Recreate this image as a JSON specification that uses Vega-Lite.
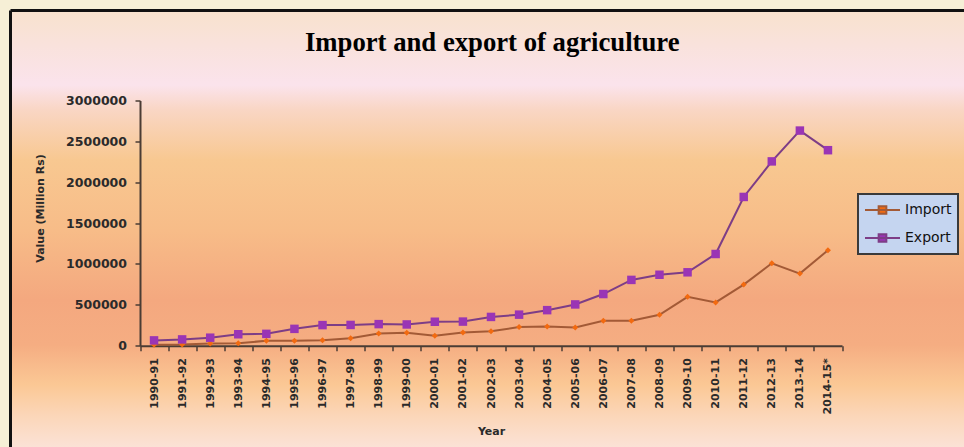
{
  "$schema": "https://vega.github.io/schema/vega-lite/v6.json",
  "width": 953.5,
  "height": 436.5,
  "autosize": "none",
  "padding": {"left": 10.5, "top": 10.5, "right": 0, "bottom": 0},
  "background": "#f6efd6",
  "title": {
    "text": "Import and export of agriculture",
    "font": "Liberation Serif",
    "fontSize": 26.7,
    "fontWeight": "bold",
    "color": "#000000",
    "anchor": "middle",
    "frame": "group",
    "offset": -46,
    "dx": 5
  },
  "config": {
    "legend": {"strokeWidth": 2},
    "view": {
      "fill": {
        "gradient": "linear",
        "x1": 0, "y1": 0, "x2": 0, "y2": 1,
        "stops": [
          {"offset": 0, "color": "#f8e2cd"},
          {"offset": 0.079, "color": "#f9e2dc"},
          {"offset": 0.171, "color": "#fbe3ec"},
          {"offset": 0.228, "color": "#f9d6c4"},
          {"offset": 0.342, "color": "#f8c891"},
          {"offset": 0.503, "color": "#f7bc88"},
          {"offset": 0.663, "color": "#f4a87f"},
          {"offset": 0.766, "color": "#f5ad82"},
          {"offset": 0.858, "color": "#fbc895"},
          {"offset": 0.927, "color": "#fbd6b8"},
          {"offset": 1, "color": "#fbe2d6"}
        ]
      },
      "stroke": "#111111",
      "strokeWidth": 3,
      "strokeDash": [953.5, 1390, 436.5, 0]
    }
  },
  "data": {
    "values": [
      {"Year": "1990-91", "Series": "Import", "Value": 12000},
      {"Year": "1991-92", "Series": "Import", "Value": 15000},
      {"Year": "1992-93", "Series": "Import", "Value": 28000},
      {"Year": "1993-94", "Series": "Import", "Value": 30000},
      {"Year": "1994-95", "Series": "Import", "Value": 60000},
      {"Year": "1995-96", "Series": "Import", "Value": 60000},
      {"Year": "1996-97", "Series": "Import", "Value": 68000},
      {"Year": "1997-98", "Series": "Import", "Value": 90000},
      {"Year": "1998-99", "Series": "Import", "Value": 148000},
      {"Year": "1999-00", "Series": "Import", "Value": 158000},
      {"Year": "2000-01", "Series": "Import", "Value": 122000},
      {"Year": "2001-02", "Series": "Import", "Value": 162000},
      {"Year": "2002-03", "Series": "Import", "Value": 178000},
      {"Year": "2003-04", "Series": "Import", "Value": 228000},
      {"Year": "2004-05", "Series": "Import", "Value": 236000},
      {"Year": "2005-06", "Series": "Import", "Value": 222000},
      {"Year": "2006-07", "Series": "Import", "Value": 305000},
      {"Year": "2007-08", "Series": "Import", "Value": 306000},
      {"Year": "2008-09", "Series": "Import", "Value": 378000},
      {"Year": "2009-10", "Series": "Import", "Value": 598000},
      {"Year": "2010-11", "Series": "Import", "Value": 530000},
      {"Year": "2011-12", "Series": "Import", "Value": 748000},
      {"Year": "2012-13", "Series": "Import", "Value": 1008000},
      {"Year": "2013-14", "Series": "Import", "Value": 882000},
      {"Year": "2014-15*", "Series": "Import", "Value": 1168000},
      {"Year": "1990-91", "Series": "Export", "Value": 65000},
      {"Year": "1991-92", "Series": "Export", "Value": 77000},
      {"Year": "1992-93", "Series": "Export", "Value": 98000},
      {"Year": "1993-94", "Series": "Export", "Value": 140000},
      {"Year": "1994-95", "Series": "Export", "Value": 145000},
      {"Year": "1995-96", "Series": "Export", "Value": 206000},
      {"Year": "1996-97", "Series": "Export", "Value": 252000},
      {"Year": "1997-98", "Series": "Export", "Value": 254000},
      {"Year": "1998-99", "Series": "Export", "Value": 264000},
      {"Year": "1999-00", "Series": "Export", "Value": 260000},
      {"Year": "2000-01", "Series": "Export", "Value": 293000},
      {"Year": "2001-02", "Series": "Export", "Value": 295000},
      {"Year": "2002-03", "Series": "Export", "Value": 352000},
      {"Year": "2003-04", "Series": "Export", "Value": 380000},
      {"Year": "2004-05", "Series": "Export", "Value": 435000},
      {"Year": "2005-06", "Series": "Export", "Value": 505000},
      {"Year": "2006-07", "Series": "Export", "Value": 632000},
      {"Year": "2007-08", "Series": "Export", "Value": 805000},
      {"Year": "2008-09", "Series": "Export", "Value": 868000},
      {"Year": "2009-10", "Series": "Export", "Value": 898000},
      {"Year": "2010-11", "Series": "Export", "Value": 1122000},
      {"Year": "2011-12", "Series": "Export", "Value": 1820000},
      {"Year": "2012-13", "Series": "Export", "Value": 2255000},
      {"Year": "2013-14", "Series": "Export", "Value": 2632000},
      {"Year": "2014-15*", "Series": "Export", "Value": 2392000}
    ]
  },
  "encoding": {
    "x": {
      "field": "Year", "type": "nominal", "sort": null, "bandPosition": 0.5,
      "scale": {"type": "band", "range": [129.5, 831.5], "paddingInner": 0, "paddingOuter": 0},
      "axis": {
        "orient": "bottom", "offset": -101.3, "domain": true, "domainColor": "#4a3c34", "domainWidth": 2, "grid": false,
        "tickBand": "extent", "ticks": true, "tickSize": 5, "tickColor": "#4a3c34", "tickWidth": 1.5,
        "labelAngle": -90, "labelAlign": "right", "labelBaseline": "middle", "labelPadding": 7,
        "labelFont": "DejaVu Sans", "labelFontWeight": "bold", "labelFontSize": 11, "labelColor": "#2a2a2a",
        "title": "Year", "titleFont": "DejaVu Sans", "titleFontWeight": "bold", "titleFontSize": 11, "titleColor": "#2a2a2a", "titlePadding": 12
      }
    },
    "y": {
      "field": "Value", "type": "quantitative",
      "scale": {"domain": [0, 3000000], "range": [335.2, 90], "nice": false, "zero": false},
      "axis": {
        "orient": "left", "offset": -129.5, "domain": true, "domainColor": "#4a3c34", "domainWidth": 2, "grid": false,
        "values": [0, 500000, 1000000, 1500000, 2000000, 2500000, 3000000], "format": "d",
        "ticks": true, "tickSize": 5, "tickColor": "#4a3c34", "tickWidth": 1.5,
        "labelFont": "DejaVu Sans", "labelFontWeight": "bold", "labelFontSize": 12.5, "labelColor": "#2a2a2a", "labelPadding": 8.5,
        "title": "Value (Million Rs)", "titleFont": "DejaVu Sans", "titleFontWeight": "bold", "titleFontSize": 11, "titleColor": "#2a2a2a", "titlePadding": 20, "titleY": 197.5
      }
    }
  },
  "layer": [
    {
      "mark": {"type": "line", "strokeWidth": 2},
      "encoding": {
        "stroke": {"field": "Series", "type": "nominal", "scale": {"domain": ["Import", "Export"], "range": ["#a35a36", "#7d3d86"]},
          "legend": {
            "orient": "none", "legendX": 847.5, "legendY": 183.5, "title": null,
            "padding": 6, "strokeColor": "#3a3a3a", "fillColor": "#c5d5f0",
            "symbolType": "M-1,0H1M-0.22,-0.22H0.22V0.22H-0.22Z",
            "symbolSize": 1225, "clipHeight": 20, "rowPadding": 8, "labelOffset": 4,
            "labelFont": "DejaVu Sans", "labelFontSize": 14, "labelColor": "#111111",
            "symbolStrokeWidth": 2
          }
        }
      }
    },
    {
      "mark": {"type": "point", "filled": true, "opacity": 1},
      "encoding": {
        "color": {"field": "Series", "type": "nominal", "scale": {"domain": ["Import", "Export"], "range": ["#f26a10", "#9a35b5"]},
          "legend": {
            "orient": "none", "legendX": 847.5, "legendY": 183.5, "title": null,
            "padding": 6, "strokeColor": "#3a3a3a", "fillColor": "#c5d5f0",
            "symbolType": "M-1,0H1M-0.22,-0.22H0.22V0.22H-0.22Z",
            "symbolSize": 1225, "clipHeight": 20, "rowPadding": 8, "labelOffset": 4,
            "labelFont": "DejaVu Sans", "labelFontSize": 14, "labelColor": "#111111",
            "symbolStrokeWidth": 2
          }
        },
        "shape": {"field": "Series", "type": "nominal", "scale": {"domain": ["Export", "Import"], "range": ["square", "diamond"]}, "legend": null},
        "size": {"field": "Series", "type": "ordinal", "scale": {"domain": ["Export", "Import"], "range": [72, 36]}, "legend": null}
      }
    }
  ]
}
